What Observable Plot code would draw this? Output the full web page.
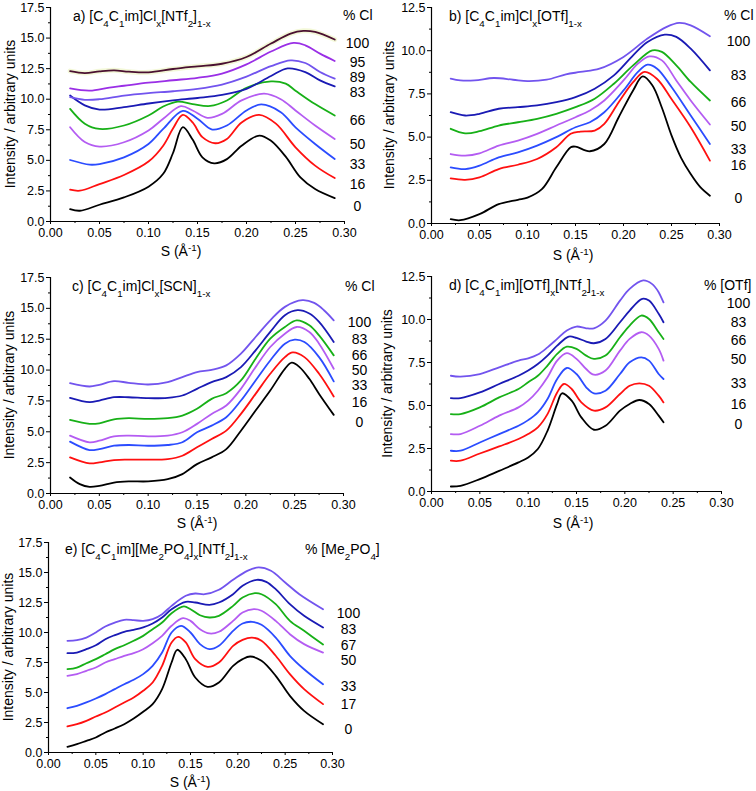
<!DOCTYPE html>
<html><head><meta charset="utf-8">
<script src="https://cdn.jsdelivr.net/npm/d3@7"></script>
<script src="https://cdn.jsdelivr.net/npm/@observablehq/plot@0.6"></script>
<style>
body{margin:0;background:#fff;}
#root{position:relative;width:756px;height:791px;overflow:hidden;background:#fff;font-family:"Liberation Sans",Arial,sans-serif;}
.pane{position:absolute;}
</style></head><body><div id="root"></div>
<script>
// ---------- shared axis ticks ----------
const xTicks = [0, 0.05, 0.10, 0.15, 0.20, 0.25, 0.30];
const xMinor = [0.025, 0.075, 0.125, 0.175, 0.225, 0.275];
const yTicks175 = [0, 2.5, 5, 7.5, 10, 12.5, 15, 17.5];
const yMinor175 = [1.25, 3.75, 6.25, 8.75, 11.25, 13.75, 16.25];
const yTicks125 = [0, 2.5, 5, 7.5, 10, 12.5];
const yMinor125 = [1.25, 3.75, 6.25, 8.75, 11.25];

const colorsA = ["#000000", "#ff1010", "#2b4cff", "#b45cf2", "#17b017", "#1a1ab4", "#7254ee", "#9a2fe6", "#4a1030"];
const colors7 = ["#000000", "#ff1010", "#2b4cff", "#b45cf2", "#17b017", "#1a1ab4", "#7254ee"];

// ---------- panel a: [C4C1im]Clx[NTf2]1-x ----------
const a0 = [[0.02,1.01],[0.03,0.88],[0.05,1.37],[0.075,1.97],[0.10,2.85],[0.115,3.9],[0.125,5.6],[0.135,7.71],[0.145,6.7],[0.155,5.25],[0.167,4.76],[0.18,5.1],[0.195,6.2],[0.213,7.03],[0.225,6.6],[0.24,5.3],[0.255,3.6],[0.27,2.65],[0.29,1.91]];
const a16 = [[0.02,2.6],[0.03,2.52],[0.05,3.06],[0.075,3.8],[0.10,4.9],[0.115,6.2],[0.125,7.6],[0.135,8.72],[0.145,8.1],[0.155,6.9],[0.168,6.4],[0.18,6.75],[0.195,8.1],[0.213,8.72],[0.23,8.0],[0.25,6.07],[0.27,4.57],[0.29,3.55]];
const a33 = [[0.02,5.03],[0.04,4.65],[0.05,4.7],[0.075,5.25],[0.10,6.34],[0.115,7.57],[0.135,9.05],[0.15,8.4],[0.165,7.52],[0.18,7.85],[0.20,9.08],[0.215,9.57],[0.235,8.94],[0.25,7.7],[0.27,6.34],[0.29,5.11]];
const a50 = [[0.02,7.71],[0.035,6.5],[0.05,6.13],[0.075,6.48],[0.10,7.44],[0.115,8.4],[0.133,9.43],[0.145,9.08],[0.16,8.48],[0.175,8.8],[0.195,9.9],[0.218,10.45],[0.235,10.0],[0.25,9.08],[0.27,7.85],[0.29,6.75]];
const a66 = [[0.02,9.21],[0.035,8.0],[0.05,7.57],[0.075,7.85],[0.10,8.67],[0.115,9.4],[0.13,9.8],[0.145,9.6],[0.163,9.45],[0.18,9.9],[0.20,10.94],[0.225,11.46],[0.24,11.27],[0.25,10.7],[0.27,9.6],[0.29,8.67]];
const a83 = [[0.02,10.3],[0.035,9.5],[0.05,9.15],[0.075,9.35],[0.10,9.65],[0.125,9.9],[0.15,10.1],[0.175,10.35],[0.20,10.85],[0.225,11.9],[0.242,12.52],[0.26,12.22],[0.275,11.54],[0.29,11.05]];
const a89 = [[0.02,10.17],[0.035,9.95],[0.05,10.0],[0.075,10.3],[0.10,10.5],[0.125,10.65],[0.15,10.85],[0.175,11.2],[0.20,11.85],[0.225,12.7],[0.245,13.18],[0.26,12.96],[0.275,12.22],[0.29,11.68]];
const a95 = [[0.02,10.88],[0.04,10.7],[0.06,10.95],[0.075,11.1],[0.10,11.35],[0.125,11.55],[0.15,11.75],[0.175,12.1],[0.20,12.85],[0.225,13.9],[0.248,14.6],[0.26,14.41],[0.275,13.73],[0.29,13.13]];
const a100 = [[0.02,12.3],[0.035,12.14],[0.05,12.28],[0.065,12.36],[0.08,12.25],[0.10,12.2],[0.125,12.47],[0.15,12.69],[0.175,12.9],[0.20,13.45],[0.225,14.55],[0.245,15.37],[0.258,15.59],[0.27,15.5],[0.29,14.88]];
const aLabels = ["0", "16", "33", "50", "66", "83", "89", "95", "100"];
const aLabelY = [1.23, 3.06, 4.70, 6.29, 8.26, 10.58, 11.81, 13.04, 14.55];

// ---------- panel b: [C4C1im]Clx[OTf]1-x ----------
const b0 = [[0.02,0.25],[0.03,0.19],[0.05,0.54],[0.07,1.12],[0.09,1.37],[0.10,1.5],[0.115,1.99],[0.13,3.25],[0.145,4.41],[0.15,4.45],[0.165,4.18],[0.18,4.6],[0.195,6.15],[0.21,7.7],[0.22,8.51],[0.23,8.0],[0.24,6.7],[0.25,5.1],[0.26,3.8],[0.27,2.86],[0.28,2.1],[0.29,1.61]];
const b16 = [[0.02,2.61],[0.035,2.53],[0.05,2.67],[0.07,3.15],[0.09,3.4],[0.11,3.73],[0.13,4.41],[0.145,5.19],[0.155,5.32],[0.17,5.38],[0.18,5.77],[0.195,7.02],[0.21,8.18],[0.222,8.77],[0.235,8.36],[0.25,7.2],[0.27,5.57],[0.29,3.64]];
const b33 = [[0.02,3.25],[0.035,3.15],[0.05,3.35],[0.07,3.83],[0.09,4.12],[0.11,4.51],[0.13,5.0],[0.15,5.57],[0.165,5.86],[0.18,6.44],[0.20,7.7],[0.215,8.77],[0.225,9.19],[0.235,8.96],[0.25,7.9],[0.27,6.25],[0.29,4.6]];
const b50 = [[0.02,4.02],[0.035,3.93],[0.05,4.06],[0.07,4.51],[0.09,4.8],[0.11,5.19],[0.13,5.67],[0.15,6.15],[0.165,6.54],[0.18,7.12],[0.20,8.28],[0.215,9.25],[0.227,9.67],[0.24,9.44],[0.255,8.28],[0.27,7.12],[0.29,5.73]];
const b66 = [[0.02,5.48],[0.035,5.22],[0.05,5.34],[0.07,5.67],[0.09,5.86],[0.11,6.06],[0.13,6.35],[0.15,6.73],[0.17,7.22],[0.19,8.09],[0.21,9.15],[0.23,10.02],[0.24,9.93],[0.255,9.15],[0.27,8.19],[0.29,7.12]];
const b83 = [[0.02,6.44],[0.035,6.25],[0.05,6.35],[0.07,6.64],[0.09,6.73],[0.11,6.83],[0.13,7.02],[0.15,7.31],[0.17,7.8],[0.19,8.57],[0.21,9.73],[0.225,10.5],[0.243,10.93],[0.255,10.8],[0.27,10.12],[0.29,8.86]];
const b100 = [[0.02,8.38],[0.03,8.28],[0.045,8.28],[0.065,8.42],[0.085,8.32],[0.10,8.24],[0.12,8.32],[0.14,8.63],[0.155,8.77],[0.175,8.96],[0.20,9.64],[0.225,10.7],[0.245,11.38],[0.258,11.61],[0.27,11.47],[0.29,10.84]];
const bLabels = ["0", "16", "33", "50", "66", "83", "100"];
const bLabelY = [1.47, 3.35, 4.26, 5.61, 7.02, 8.57, 10.51];

// ---------- panel c: [C4C1im]Clx[SCN]1-x ----------
const c0 = [[0.02,1.3],[0.03,0.76],[0.04,0.54],[0.05,0.62],[0.065,0.89],[0.08,0.98],[0.10,0.98],[0.12,1.16],[0.135,1.57],[0.15,2.38],[0.165,2.93],[0.18,3.6],[0.195,5.09],[0.21,6.72],[0.225,8.34],[0.24,10.1],[0.247,10.6],[0.255,10.24],[0.265,9.29],[0.275,8.07],[0.29,6.37]];
const c16 = [[0.02,2.93],[0.04,2.44],[0.05,2.52],[0.065,2.71],[0.08,2.74],[0.10,2.74],[0.12,2.79],[0.135,3.06],[0.15,3.74],[0.165,4.42],[0.18,5.09],[0.195,6.45],[0.21,8.07],[0.225,9.7],[0.24,11.05],[0.248,11.43],[0.26,11.05],[0.275,9.7],[0.29,7.86]];
const c33 = [[0.02,4.2],[0.04,3.52],[0.05,3.6],[0.065,3.87],[0.08,3.93],[0.10,3.87],[0.12,3.93],[0.135,4.15],[0.15,4.96],[0.165,5.5],[0.18,6.18],[0.195,7.53],[0.21,9.16],[0.225,10.78],[0.24,12.14],[0.25,12.46],[0.26,12.27],[0.275,11.05],[0.29,9.08]];
const c50 = [[0.02,4.69],[0.04,4.15],[0.05,4.28],[0.065,4.63],[0.08,4.69],[0.10,4.63],[0.12,4.69],[0.135,4.96],[0.15,5.64],[0.165,6.45],[0.18,7.13],[0.195,8.48],[0.21,10.24],[0.225,11.87],[0.24,12.95],[0.252,13.49],[0.265,13.09],[0.275,12.14],[0.29,10.11]];
const c66 = [[0.02,5.96],[0.04,5.64],[0.05,5.69],[0.065,6.01],[0.08,6.1],[0.10,6.04],[0.12,6.1],[0.135,6.31],[0.15,6.86],[0.165,7.67],[0.18,8.13],[0.195,9.16],[0.21,10.92],[0.225,12.54],[0.24,13.49],[0.252,14.03],[0.265,13.63],[0.275,12.81],[0.29,11.19]];
const c83 = [[0.02,7.75],[0.04,7.4],[0.05,7.53],[0.065,7.8],[0.08,7.8],[0.10,7.72],[0.12,7.75],[0.135,7.94],[0.15,8.48],[0.165,9.02],[0.18,9.43],[0.195,10.24],[0.21,11.6],[0.225,13.09],[0.24,14.44],[0.253,14.85],[0.265,14.58],[0.275,13.9],[0.29,12.27]];
const c100 = [[0.02,8.94],[0.04,8.67],[0.05,8.81],[0.065,9.1],[0.08,8.97],[0.10,8.83],[0.12,9.02],[0.135,9.43],[0.15,9.83],[0.165,10.02],[0.18,10.38],[0.195,11.33],[0.21,12.68],[0.225,14.03],[0.24,15.12],[0.258,15.66],[0.27,15.44],[0.28,14.85],[0.29,14.03]];
const cLabels = ["0", "16", "33", "50", "66", "83", "100"];
const cLabelY = [5.72, 7.40, 8.72, 9.95, 11.2, 12.45, 13.84];

// ---------- panel d: [C4C1im][OTf]x[NTf2]1-x ----------
const d0 = [[0.02,0.29],[0.03,0.33],[0.05,0.72],[0.07,1.2],[0.09,1.69],[0.10,1.98],[0.11,2.47],[0.12,3.53],[0.13,5.09],[0.135,5.71],[0.145,5.28],[0.155,4.31],[0.168,3.59],[0.18,3.82],[0.195,4.7],[0.205,5.09],[0.215,5.32],[0.225,5.09],[0.235,4.41],[0.24,4.02]];
const d16 = [[0.02,1.79],[0.03,1.79],[0.05,2.21],[0.07,2.62],[0.09,3.05],[0.10,3.34],[0.11,3.73],[0.12,4.5],[0.13,5.76],[0.137,6.25],[0.145,5.96],[0.155,5.18],[0.168,4.7],[0.18,4.89],[0.195,5.67],[0.205,6.15],[0.215,6.29],[0.225,6.15],[0.235,5.57],[0.24,5.18]];
const d33 = [[0.02,2.37],[0.03,2.37],[0.05,2.85],[0.07,3.34],[0.09,3.82],[0.10,4.15],[0.11,4.6],[0.12,5.38],[0.13,6.54],[0.14,7.18],[0.15,6.83],[0.16,6.06],[0.168,5.71],[0.18,5.86],[0.195,6.83],[0.205,7.51],[0.217,7.8],[0.225,7.61],[0.235,6.83],[0.24,6.54]];
const d50 = [[0.02,3.34],[0.03,3.34],[0.05,3.82],[0.07,4.41],[0.09,4.89],[0.10,5.28],[0.11,5.86],[0.12,6.64],[0.13,7.61],[0.14,8.04],[0.15,7.71],[0.16,7.12],[0.168,6.79],[0.18,7.03],[0.195,8.19],[0.205,8.87],[0.217,9.26],[0.225,9.06],[0.235,8.29],[0.24,7.61]];
const d66 = [[0.02,4.5],[0.03,4.5],[0.05,4.89],[0.07,5.47],[0.09,5.96],[0.10,6.35],[0.11,6.73],[0.12,7.32],[0.13,8.0],[0.14,8.42],[0.15,8.29],[0.16,7.9],[0.168,7.71],[0.18,7.9],[0.195,8.97],[0.205,9.65],[0.217,10.23],[0.225,10.03],[0.235,9.26],[0.24,8.87]];
const d83 = [[0.02,5.43],[0.03,5.43],[0.05,5.76],[0.07,6.25],[0.09,6.73],[0.10,7.03],[0.11,7.41],[0.12,7.9],[0.13,8.48],[0.142,9.01],[0.15,8.93],[0.16,8.72],[0.168,8.62],[0.18,8.87],[0.195,9.84],[0.205,10.52],[0.218,11.2],[0.225,11.1],[0.235,10.33],[0.24,9.84]];
const d100 = [[0.02,6.73],[0.03,6.68],[0.05,6.83],[0.07,7.22],[0.09,7.61],[0.10,7.74],[0.11,7.96],[0.12,8.38],[0.13,8.87],[0.14,9.36],[0.15,9.59],[0.16,9.49],[0.168,9.49],[0.18,9.94],[0.195,11.1],[0.205,11.78],[0.219,12.27],[0.228,12.07],[0.235,11.59],[0.24,11.0]];
const dLabels = ["0", "16", "33", "50", "66", "83", "100"];
const dLabelY = [3.92, 5.05, 6.25, 7.65, 8.77, 9.8, 10.91];

// ---------- panel e: [C4C1im][Me2PO4]x[NTf2]1-x ----------
const e0 = [[0.02,0.47],[0.03,0.69],[0.04,0.97],[0.05,1.25],[0.06,1.67],[0.07,2.0],[0.08,2.36],[0.09,2.83],[0.10,3.39],[0.11,4.03],[0.12,5.28],[0.13,7.5],[0.136,8.56],[0.145,7.78],[0.155,6.25],[0.168,5.47],[0.18,5.83],[0.195,7.22],[0.205,7.78],[0.213,8.0],[0.225,7.64],[0.24,6.39],[0.255,4.72],[0.27,3.47],[0.29,2.36]];
const e17 = [[0.02,2.17],[0.03,2.36],[0.04,2.64],[0.05,3.0],[0.06,3.33],[0.07,3.75],[0.08,4.17],[0.09,4.58],[0.10,5.14],[0.11,5.83],[0.12,7.22],[0.13,9.17],[0.137,9.64],[0.145,9.17],[0.155,7.78],[0.168,7.14],[0.18,7.5],[0.195,8.89],[0.205,9.39],[0.215,9.58],[0.225,9.31],[0.24,8.06],[0.255,6.53],[0.27,5.28],[0.29,4.03]];
const e33 = [[0.02,3.69],[0.03,3.89],[0.04,4.17],[0.05,4.5],[0.06,4.86],[0.07,5.28],[0.08,5.69],[0.09,6.06],[0.10,6.53],[0.11,7.22],[0.12,8.33],[0.13,10.0],[0.14,10.56],[0.15,10.0],[0.16,9.03],[0.17,8.61],[0.18,8.89],[0.195,10.14],[0.205,10.75],[0.215,10.89],[0.225,10.64],[0.24,9.58],[0.255,8.06],[0.27,6.94],[0.29,5.69]];
const e50 = [[0.02,6.39],[0.03,6.53],[0.04,6.81],[0.05,7.08],[0.06,7.5],[0.07,7.78],[0.08,8.06],[0.09,8.28],[0.10,8.61],[0.11,9.11],[0.12,9.72],[0.13,10.56],[0.142,11.19],[0.15,10.97],[0.16,10.28],[0.17,9.92],[0.18,10.06],[0.195,10.97],[0.205,11.67],[0.217,11.94],[0.225,11.81],[0.24,10.97],[0.255,9.86],[0.27,9.03],[0.29,8.33]];
const e67 = [[0.02,6.94],[0.03,7.08],[0.04,7.44],[0.05,7.78],[0.06,8.19],[0.07,8.61],[0.08,8.94],[0.09,9.31],[0.10,9.72],[0.11,10.28],[0.12,10.83],[0.13,11.61],[0.143,12.17],[0.15,11.94],[0.16,11.44],[0.17,11.25],[0.18,11.39],[0.195,12.22],[0.205,12.92],[0.218,13.28],[0.225,13.19],[0.24,12.36],[0.255,10.97],[0.27,10.14],[0.29,9.0]];
const e83 = [[0.02,8.28],[0.03,8.33],[0.04,8.61],[0.05,8.94],[0.06,9.44],[0.07,9.78],[0.08,10.06],[0.09,10.22],[0.10,10.42],[0.11,10.75],[0.12,11.25],[0.13,11.94],[0.145,12.56],[0.155,12.5],[0.17,12.31],[0.18,12.5],[0.195,13.19],[0.205,13.89],[0.22,14.39],[0.23,14.22],[0.24,13.61],[0.255,12.36],[0.27,11.39],[0.29,10.42]];
const e100 = [[0.02,9.31],[0.03,9.36],[0.04,9.58],[0.05,10.0],[0.06,10.5],[0.07,10.83],[0.08,11.06],[0.09,11.03],[0.10,10.97],[0.11,11.11],[0.12,11.53],[0.13,12.22],[0.145,13.06],[0.155,13.25],[0.165,13.19],[0.18,13.56],[0.195,14.39],[0.21,15.14],[0.222,15.42],[0.235,15.14],[0.25,14.17],[0.265,13.19],[0.29,11.94]];
const eLabels = ["0", "17", "33", "50", "67", "83", "100"];
const eLabelY = [1.94, 3.97, 5.5, 7.64, 8.94, 10.28, 11.61];

// ---------- titles (text parts: 0 normal, 1 subscript, 2 superscript) ----------
const titleA = [["a) [C",0],["4",1],["C",0],["1",1],["im]Cl",0],["x",1],["[NTf",0],["2",1],["]",0],["1-x",1]];
const titleB = [["b) [C",0],["4",1],["C",0],["1",1],["im]Cl",0],["x",1],["[OTf]",0],["1-x",1]];
const titleC = [["c) [C",0],["4",1],["C",0],["1",1],["im]Cl",0],["x",1],["[SCN]",0],["1-x",1]];
const titleD = [["d) [C",0],["4",1],["C",0],["1",1],["im][OTf]",0],["x",1],["[NTf",0],["2",1],["]",0],["1-x",1]];
const titleE = [["e) [C",0],["4",1],["C",0],["1",1],["im][Me",0],["2",1],["PO",0],["4",1],["]",0],["x",1],["[NTf",0],["2",1],["]",0],["1-x",1]];
const headCl = [["% Cl",0]];
const headOTf = [["% [OTf]",0]];
const headMe = [["% [Me",0],["2",1],["PO",0],["4",1],["]",0]];
const xLabel = [["S (\u00C5",0],["-1",2],[")",0]];
const yLabel = [["Intensity / arbitrary units",0]];

const FONT = "'Liberation Sans', Arial, Helvetica, sans-serif";

function rich(g, x, y, parts, size, anchor, rotate) {
  const t = g.append("text").attr("x", x).attr("y", y)
    .attr("font-size", size).attr("font-family", FONT).attr("fill", "#000")
    .attr("text-anchor", anchor || "start");
  if (rotate) t.attr("transform", `rotate(-90 ${x} ${y})`);
  for (const [s, m] of parts) {
    const ts = t.append("tspan").text(s);
    if (m === 1) ts.attr("baseline-shift", "sub").attr("font-size", size * 0.7);
    if (m === 2) ts.attr("baseline-shift", "super").attr("font-size", size * 0.7);
  }
}

function panel(o) {
  const fmtX = d3.format(".2f"), fmtY = d3.format(".1f");
  const marks = [
    Plot.axisX({ticks: xTicks, tickFormat: fmtX, tickSize: 3, tickPadding: 4, label: null, stroke: "#000"}),
    Plot.axisX({ticks: xMinor, tickFormat: () => "", tickSize: 2, label: null, stroke: "#000"}),
    Plot.axisY({ticks: o.yTicks, tickFormat: fmtY, tickSize: 4, tickPadding: 2, label: null, stroke: "#000"}),
    Plot.axisY({ticks: o.yMinor, tickFormat: () => "", tickSize: 2, label: null, stroke: "#000"}),
    Plot.ruleX([0], {stroke: "#000", strokeWidth: 1.2}),
    Plot.ruleY([0], {stroke: "#000", strokeWidth: 1.2})
  ];
  if (o.halo != null) {
    marks.push(Plot.line(o.series[o.halo], {x: d => d[0], y: d => d[1], stroke: "#f3f8d8", strokeWidth: 5, curve: "catmull-rom"}));
  }
  o.series.forEach((s, i) => {
    marks.push(Plot.line(s, {x: d => d[0], y: d => d[1], stroke: o.colors[i], strokeWidth: 1.8, curve: "catmull-rom"}));
  });
  marks.push(Plot.text(o.labels, {x: () => 0.3, y: (d, i) => o.labelY[i], text: d => d, dx: o.labelDx, fontSize: 14, textAnchor: "middle", fill: "#000"}));

  const svg = Plot.plot({
    width: o.width, height: o.height,
    marginLeft: o.mL, marginRight: o.mR, marginTop: o.mT, marginBottom: o.mB,
    x: {domain: [0, 0.3]},
    y: {domain: [0, o.yMax]},
    style: {background: "transparent", overflow: "visible", fontFamily: FONT, fontSize: "12.5px", color: "#000", maxWidth: "none"},
    marks
  });
  const div = document.createElement("div");
  div.className = "pane";
  div.style.left = o.left + "px";
  div.style.top = o.top + "px";
  div.style.width = o.width + "px";
  div.style.height = o.height + "px";
  div.appendChild(svg);
  document.getElementById("root").appendChild(div);

  const g = d3.select(svg).append("g");
  rich(g, o.title[0], o.title[1], o.titleParts, 14, "start");
  rich(g, o.head[0], o.head[1], o.headParts, 14, "start");
  rich(g, o.xl[0], o.xl[1], xLabel, 14, "middle");
  rich(g, o.yl[0], o.yl[1], yLabel, 14, "middle", true);
}

panel({left: 0, top: 0, width: 378, height: 260, mL: 50, mR: 34, mT: 7, mB: 39,
  yMax: 17.5, yTicks: yTicks175, yMinor: yMinor175,
  series: [a0, a16, a33, a50, a66, a83, a89, a95, a100], colors: colorsA, halo: 8,
  labels: aLabels, labelY: aLabelY, labelDx: 13,
  titleParts: titleA, title: [73, 21], headParts: headCl, head: [343, 20],
  xl: [181, 256], yl: [15, 114]});

panel({left: 376, top: 0, width: 380, height: 260, mL: 55, mR: 37, mT: 7, mB: 37,
  yMax: 12.5, yTicks: yTicks125, yMinor: yMinor125,
  series: [b0, b16, b33, b50, b66, b83, b100], colors: colors7,
  labels: bLabels, labelY: bLabelY, labelDx: 19,
  titleParts: titleB, title: [73, 21], headParts: headCl, head: [348, 20],
  xl: [197, 260], yl: [18, 115]});

panel({left: 0, top: 260, width: 378, height: 265, mL: 50, mR: 35, mT: 17, mB: 32,
  yMax: 17.5, yTicks: yTicks175, yMinor: yMinor175,
  series: [c0, c16, c33, c50, c66, c83, c100], colors: colors7,
  labels: cLabels, labelY: cLabelY, labelDx: 16,
  titleParts: titleC, title: [72, 31], headParts: headCl, head: [345, 31],
  xl: [197, 268], yl: [14, 125]});

panel({left: 376, top: 260, width: 380, height: 265, mL: 55, mR: 35, mT: 16, mB: 34,
  yMax: 12.5, yTicks: yTicks125, yMinor: yMinor125,
  series: [d0, d16, d33, d50, d66, d83, d100], colors: colors7,
  labels: dLabels, labelY: dLabelY, labelDx: 17,
  titleParts: titleD, title: [73, 30], headParts: headOTf, head: [328, 30],
  xl: [197, 268], yl: [15.5, 123.5]});

panel({left: 0, top: 525, width: 378, height: 266, mL: 48, mR: 46, mT: 17, mB: 39,
  yMax: 17.5, yTicks: yTicks175, yMinor: yMinor175,
  series: [e0, e17, e33, e50, e67, e83, e100], colors: colors7,
  labels: eLabels, labelY: eLabelY, labelDx: 16,
  titleParts: titleE, title: [65, 29], headParts: headMe, head: [305, 29],
  xl: [190, 262], yl: [13, 122]});
</script></body></html>
